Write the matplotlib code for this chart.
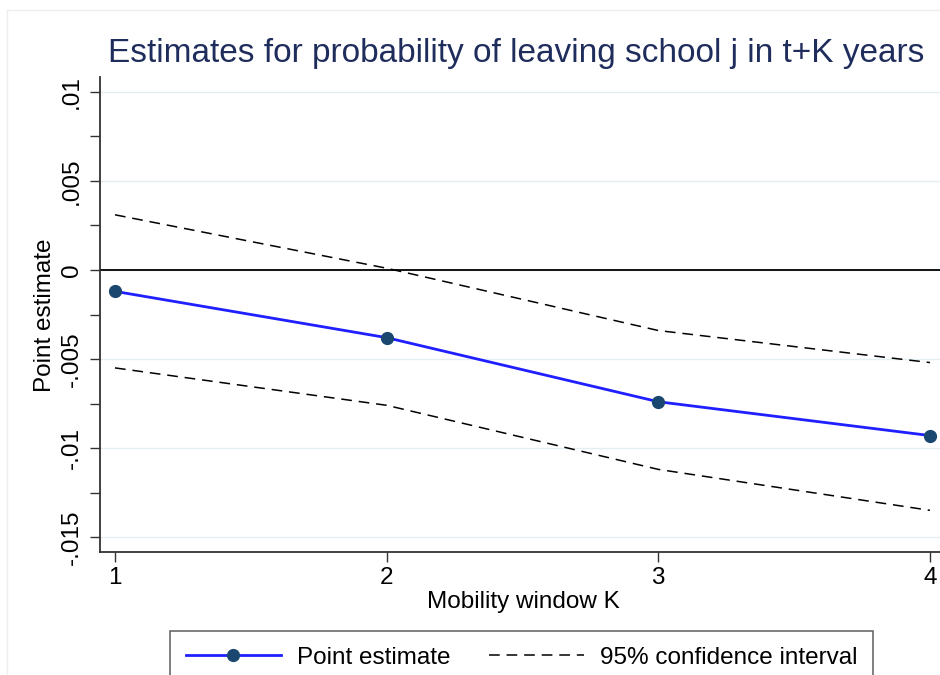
import matplotlib
matplotlib.use("Agg")
import matplotlib.pyplot as plt
from matplotlib.lines import Line2D
import numpy as np

# Data
K = [1, 2, 3, 4]
point_est = [-0.0012, -0.0038, -0.0074, -0.0093]
ci_upper = [0.0031, 0.0001, -0.0034, -0.0052]
ci_lower = [-0.0055, -0.0076, -0.0112, -0.0135]
yticks = [0.01, 0.005, 0.0, -0.005, -0.01, -0.015]
ytick_labels = [".01", ".005", "0", "-.005", "-.01", "-.015"]
yminor = [0.0075, 0.0025, -0.0025, -0.0075, -0.0125]
xticks = [1, 2, 3, 4]

plt.rcParams['font.family'] = ['Liberation Sans', 'DejaVu Sans']

FS = 17.5
DASH = (0, (7, 4.5))
W, H = 940, 675
fig = plt.figure(figsize=(W / 100, H / 100), dpi=100)
fig.patch.set_facecolor('white')

left, right, top, bottom = 100, 940, 77, 552
ax = fig.add_axes([left / W, 1 - bottom / H, (right - left) / W, (bottom - top) / H])

ax.set_xlim(0.9448, 4.037)
ax.set_ylim(-0.01584, 0.01084)

for y in yticks:
    ax.axhline(y, color='#e4eef1', lw=1.0, zorder=0)
ax.axhline(0, color='black', lw=1.3, zorder=1)

ax.plot(K, ci_upper, color='black', lw=1.1, ls=DASH, zorder=2)
ax.plot(K, ci_lower, color='black', lw=1.1, ls=DASH, zorder=2)
ax.plot(K, point_est, color='#1f1fff', lw=2.0, marker='o', markersize=8.5,
        markerfacecolor='#1a476f', markeredgecolor='#1a476f', zorder=3)

ax.set_yticks(yticks)
ax.set_yticklabels(ytick_labels, rotation=90, va='center', fontsize=FS)
ax.set_yticks(yminor, minor=True)
ax.set_xticks(xticks)
ax.set_xticklabels([str(x) for x in xticks], fontsize=FS)

ax.tick_params(axis='both', which='both', direction='out', length=7.5, width=1.0,
               color='#333333')
ax.tick_params(axis='x', pad=3)
ax.tick_params(axis='y', pad=5)

for s in ['top', 'right']:
    ax.spines[s].set_visible(False)
for s in ['left', 'bottom']:
    ax.spines[s].set_color('#333333')
    ax.spines[s].set_linewidth(1.3)

ax.set_xlabel('Mobility window K', fontsize=FS)
ax.xaxis.set_label_coords((523 - left) / (right - left), -(602 - bottom) / (bottom - top))
ax.xaxis.label.set_va('center')
ax.set_ylabel('Point estimate', fontsize=FS)
ax.yaxis.set_label_coords(-(100 - 45) / (right - left), (bottom - 315) / (bottom - top))
ax.yaxis.label.set_va('center')

fig.text(108 / W, 1 - 62 / H, 'Estimates for probability of leaving school j in t+K years',
         fontsize=24, color='#1f2d5c', ha='left', va='baseline')

# faint outer frame
fig.add_artist(Line2D([7 / W, 7 / W], [0, 1 - 10 / H], color='#eeeeee', lw=1.0))
fig.add_artist(Line2D([7 / W, 1], [1 - 10 / H, 1 - 10 / H], color='#eeeeee', lw=1.0))

handles = [
    Line2D([], [], color='#1f1fff', lw=2.0, marker='o', markersize=8.5,
           markerfacecolor='#1a476f', markeredgecolor='#1a476f'),
    Line2D([], [], color='black', lw=1.1, ls=DASH),
]
leg = fig.legend(handles, ['Point estimate', '95% confidence interval'],
                 loc='upper center', bbox_to_anchor=(521.5 / W, 1 - 631 / H),
                 ncol=2, fontsize=FS, frameon=True, fancybox=False,
                 handlelength=3.9, columnspacing=1.6, borderpad=0.65,
                 handletextpad=0.65, borderaxespad=0)
leg.get_frame().set_edgecolor('#444444')
leg.get_frame().set_linewidth(1.2)

fig.savefig('out.png', dpi=100, facecolor='white')
